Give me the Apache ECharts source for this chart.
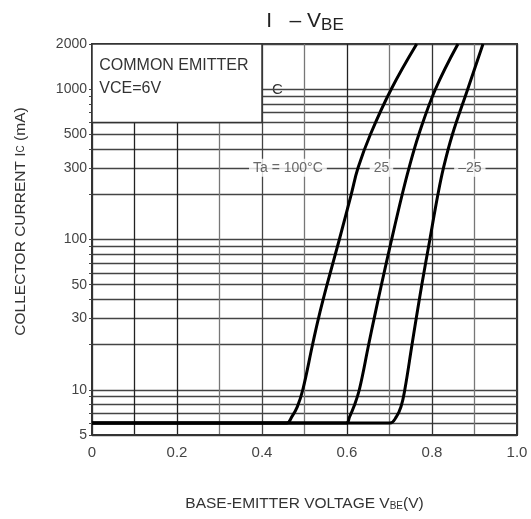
<!DOCTYPE html>
<html><head><meta charset="utf-8">
<script src="https://cdn.jsdelivr.net/npm/echarts@6/dist/echarts.min.js"></script>
<style>html,body{margin:0;padding:0;background:#fff}#c{width:531px;height:519px}</style>
</head><body><div id="c"></div>
<script>
// Ic (mA) vs VBE (V) for three ambient temperatures
const curve100 = [[0,6],[0.458,6],[0.470,6.6],[0.483,7.7],[0.496,10],[0.519,20],[0.533,30],[0.553,50],[0.582,100],[0.610,200],[0.626,300],[0.655,500],[0.704,1000],[0.764,2000]];
const curve25 = [[0,6],[0.598,6],[0.606,6.6],[0.616,7.7],[0.629,10],[0.651,20],[0.664,30],[0.681,50],[0.705,100],[0.730,200],[0.746,300],[0.769,500],[0.808,1000],[0.861,2000]];
const curveM25 = [[0,6],[0.701,6],[0.716,6.6],[0.727,7.7],[0.736,10],[0.753,20],[0.763,30],[0.776,50],[0.795,100],[0.814,200],[0.827,300],[0.848,500],[0.884,1000],[0.920,2000]];
const curveLabels = [[0.461,300,'Ta = 100°C'],[0.681,300,'25'],[0.889,300,'–25']];
const yLabelValues = [5,10,30,50,100,300,500,1000,2000];
const yGridValues = [5,6,7,8,9,10,20,30,40,50,60,70,80,90,100,200,300,400,500,600,700,800,900,1000,2000];
const conditionBox = [[0,2000],[0.4,600]];
const conditionText = 'COMMON EMITTER\nVCE=6V';

const FONT = '"Liberation Sans", Arial, sans-serif';
const chart = echarts.init(document.getElementById('c'));
function curveSeries(name, data){
  return {name, type:'line', data, showSymbol:false, smooth:0.4,
    lineStyle:{color:'#000', width:3}, z:5, silent:true};
}
const s100 = curveSeries('100', curve100);
s100.markArea = {silent:true, itemStyle:{color:'#fff', borderColor:'#333', borderWidth:1.5},
  label:{show:true, position:[8,11], formatter:conditionText, color:'#333', fontFamily:FONT, fontSize:16, lineHeight:23, align:'left', verticalAlign:'top'},
  data:[[{coord:conditionBox[0]},{coord:conditionBox[1]}]]};
chart.setOption({
  animation:false,
  title:{text:'I   – V{s|BE}', left:300, textAlign:'center', top:4,
    textStyle:{fontFamily:FONT, fontSize:21, fontWeight:'normal', color:'#222', rich:{s:{fontFamily:FONT, fontSize:17, color:'#222', padding:[8,0,0,0]}}}},
  graphic:[{type:'text', left:272, top:82, style:{text:'C', font:'15px "Liberation Sans", Arial', fill:'#333'}}],
  grid:{left:92, right:14, top:44, bottom:84, show:true, borderColor:'#333', borderWidth:2, backgroundColor:'transparent'},
  xAxis:{type:'value', min:0, max:1, interval:0.1,
    name:'BASE-EMITTER VOLTAGE V{s|BE}(V)', nameLocation:'middle', nameGap:61,
    nameTextStyle:{fontFamily:FONT, fontSize:15.5, color:'#333', rich:{s:{fontFamily:FONT, fontSize:10, color:'#333', padding:[4,0,0,0]}}},
    axisLine:{lineStyle:{color:'#333', width:2}}, axisTick:{show:false},
    axisLabel:{fontFamily:FONT, fontSize:15, color:'#444', margin:10,
      formatter:v=>{const k=Math.round(v*10); if(k%2) return ''; if(k===0) return '0'; if(k===10) return '1.0'; return (k/10).toFixed(1);}},
    splitLine:{lineStyle:{width:1.3, color:['#333','#222','#222','#777','#444','#777','#222','#777','#333','#777','#333']}}},
  yAxis:{type:'log', logBase:10, min:5, max:2000,
    name:'COLLECTOR CURRENT I{s|C} (mA)', nameLocation:'middle', nameGap:63, nameRotate:90,
    nameTextStyle:{fontFamily:FONT, fontSize:15.5, color:'#333', padding:[0,0,0,36], rich:{s:{fontFamily:FONT, fontSize:10, color:'#333'}}},
    axisLine:{lineStyle:{color:'#333', width:2}},
    axisTick:{show:true, customValues:yGridValues, length:3, lineStyle:{color:'#444'}},
    axisLabel:{customValues:yLabelValues, fontFamily:FONT, fontSize:14, color:'#444', margin:5, formatter:v=>String(v)},
    splitLine:{show:true, lineStyle:{width:1.3, color:'#444'}}},
  series:[
    s100, curveSeries('25', curve25), curveSeries('-25', curveM25),
    {type:'scatter', data:curveLabels, symbolSize:0, silent:true, z:6,
      label:{show:true, position:'inside', formatter:p=>p.value[2], fontFamily:FONT, fontSize:14, color:'#444',
        backgroundColor:'#fff', padding:[2,4]}}
  ]
});
</script></body></html>
